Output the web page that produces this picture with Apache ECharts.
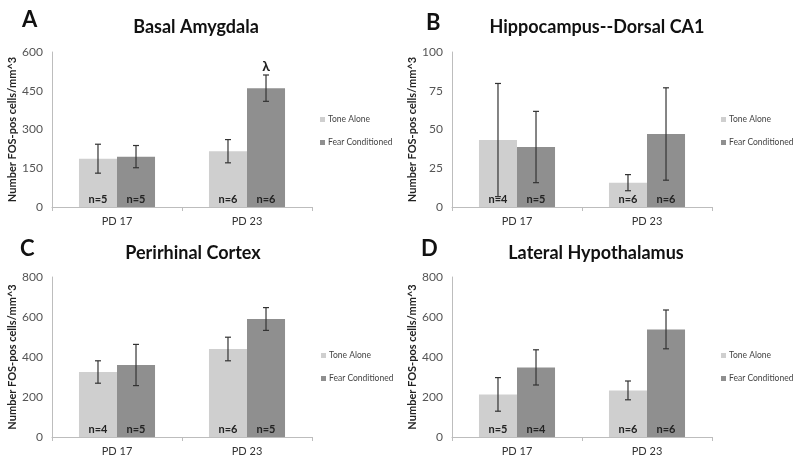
<!DOCTYPE html>
<html>
<head>
<meta charset="utf-8">
<script src="https://cdn.jsdelivr.net/npm/echarts@6/dist/echarts.min.js"></script>
<style>html,body{margin:0;padding:0;background:#fff}#c{width:800px;height:462px}</style>
</head>
<body>
<div id="c"></div>
<script>
// ---- data ----
const categories = ['PD 17', 'PD 23'];
const seriesNames = ['Tone Alone', 'Fear Conditioned'];
const panelLetters = ['A', 'B', 'C', 'D'];
const panelTitles = ['Basal Amygdala', 'Hippocampus--Dorsal CA1', 'Perirhinal Cortex', 'Lateral Hypothalamus'];
const yMax = [600, 100, 800, 800];
const yStep = [150, 25, 200, 200];

const toneA = [187, 216], toneErrA = [56, 45], fearA = [195, 460], fearErrA = [43, 51];
const nToneA = [5, 6], nFearA = [5, 6], sigFearA = ['', 'λ'];
const toneB = [43.2, 15.7], toneErrB = [36.5, 5.2], fearB = [38.7, 47.1], fearErrB = [23, 29.8];
const nToneB = [4, 6], nFearB = [5, 6], sigFearB = ['', ''];
const toneC = [325, 440], toneErrC = [56, 59], fearC = [360, 590], fearErrC = [103, 57];
const nToneC = [4, 6], nFearC = [5, 5], sigFearC = ['', ''];
const toneD = [213, 233], toneErrD = [84, 47], fearD = [348, 538], fearErrD = [88, 97];
const nToneD = [5, 6], nFearD = [4, 6], sigFearD = ['', ''];

const panels = [
  {tone: toneA, toneErr: toneErrA, fear: fearA, fearErr: fearErrA, nTone: nToneA, nFear: nFearA, sig: sigFearA},
  {tone: toneB, toneErr: toneErrB, fear: fearB, fearErr: fearErrB, nTone: nToneB, nFear: nFearB, sig: sigFearB},
  {tone: toneC, toneErr: toneErrC, fear: fearC, fearErr: fearErrC, nTone: nToneC, nFear: nFearC, sig: sigFearC},
  {tone: toneD, toneErr: toneErrD, fear: fearD, fearErr: fearErrD, nTone: nToneD, nFear: nFearD, sig: sigFearD}
];

// ---- layout / style ----
const FONT = 'Lato';
const toneColor = '#cfcfcf';
const fearColor = '#8f8f8f';
const CAT_GAP = 0.415;
const gridPos = [
  {left: 52, top: 52, width: 260, height: 155},
  {left: 452, top: 52, width: 260, height: 155},
  {left: 52, top: 277, width: 260, height: 160},
  {left: 452, top: 277, width: 260, height: 160}
];
const letterPos = [[17, 4], [421, 7], [15, 233], [416, 233]];
const titlePos = [[191, 13], [592, 13], [188, 239], [591, 239]];
const legendPos = [[320, 115], [721, 115], [321, 351], [721, 351]];

const chart = echarts.init(document.getElementById('c'), null, {renderer: 'canvas'});

const grids = [], xAxes = [], yAxes = [], series = [], titles = [], legends = [];

function errRender(panel, sideSign, sigArr) {
  return function (params, api) {
    const cat = api.value(0), mean = api.value(1), err = api.value(2);
    const c = api.coord([cat, mean]);
    const band = api.size([1, 0])[0];
    const bw = band * (1 - CAT_GAP) / 2;
    const x = c[0] + sideSign * bw / 2;
    const yTop = api.coord([cat, mean + err])[1];
    const yBot = api.coord([cat, mean - err])[1];
    const st = {stroke: '#333', lineWidth: 1.2};
    const cap = 3;
    const children = [
      {type: 'line', shape: {x1: x, y1: yTop, x2: x, y2: yBot}, style: st},
      {type: 'line', shape: {x1: x - cap, y1: yTop, x2: x + cap, y2: yTop}, style: st},
      {type: 'line', shape: {x1: x - cap, y1: yBot, x2: x + cap, y2: yBot}, style: st}
    ];
    const s = sigArr ? sigArr[params.dataIndex] : '';
    if (s) {
      children.push({type: 'text', style: {text: s, x: x, y: yTop - 9, align: 'center', verticalAlign: 'middle',
        fontFamily: FONT, fontWeight: 'bold', fontSize: 14, fill: '#222'}});
    }
    return {type: 'group', children: children};
  };
}

panels.forEach((p, i) => {
  grids.push(Object.assign({}, gridPos[i], {containLabel: false}));
  xAxes.push({
    type: 'category', gridIndex: i, data: categories,
    axisLine: {lineStyle: {color: '#bdbdbd', width: 1}},
    axisTick: {show: true, length: 4, lineStyle: {color: '#bdbdbd'}},
    axisLabel: {color: '#333', fontFamily: FONT, fontSize: 11, margin: 9}
  });
  yAxes.push({
    type: 'value', gridIndex: i, min: 0, max: yMax[i], interval: yStep[i],
    name: 'Number FOS-pos cells/mm^3', nameLocation: 'middle', nameRotate: 90, nameGap: 32,
    nameTextStyle: {fontFamily: FONT, fontWeight: 'bold', fontSize: 11, color: '#222'},
    axisLine: {show: true, lineStyle: {color: '#bdbdbd', width: 1}},
    axisTick: {show: false},
    splitLine: {show: false},
    axisLabel: {color: '#555', fontFamily: FONT, fontSize: 12, margin: 9}
  });
  const labelCommon = {show: true, position: 'insideBottom', distance: 2, fontFamily: FONT,
    fontWeight: 'bold', fontSize: 11, color: '#222'};
  series.push({
    name: seriesNames[0], type: 'bar', xAxisIndex: i, yAxisIndex: i, data: p.tone,
    barGap: '0%', barCategoryGap: (CAT_GAP * 100) + '%',
    itemStyle: {color: toneColor},
    label: Object.assign({}, labelCommon, {formatter: (d) => 'n=' + p.nTone[d.dataIndex]}),
    emphasis: {disabled: true}, animation: false
  });
  series.push({
    name: seriesNames[1], type: 'bar', xAxisIndex: i, yAxisIndex: i, data: p.fear,
    barGap: '0%', barCategoryGap: (CAT_GAP * 100) + '%',
    itemStyle: {color: fearColor},
    label: Object.assign({}, labelCommon, {formatter: (d) => 'n=' + p.nFear[d.dataIndex]}),
    emphasis: {disabled: true}, animation: false
  });
  series.push({
    type: 'custom', xAxisIndex: i, yAxisIndex: i, z: 10, animation: false,
    data: p.tone.map((v, k) => [k, v, p.toneErr[k]]),
    renderItem: errRender(p, -1, null)
  });
  series.push({
    type: 'custom', xAxisIndex: i, yAxisIndex: i, z: 10, animation: false,
    data: p.fear.map((v, k) => [k, v, p.fearErr[k]]),
    renderItem: errRender(p, 1, p.sig)
  });
  titles.push({
    text: panelLetters[i], left: letterPos[i][0], top: letterPos[i][1],
    textStyle: {fontFamily: FONT, fontWeight: 'bold', fontSize: 22, color: '#111'}
  });
  titles.push({
    text: panelTitles[i], left: titlePos[i][0], top: titlePos[i][1], textAlign: 'center',
    textStyle: {fontFamily: FONT, fontWeight: 'bold', fontSize: 18, color: '#111'}
  });
  legends.push({
    data: seriesNames, orient: 'vertical', left: legendPos[i][0], top: legendPos[i][1],
    padding: 0, icon: 'rect', itemWidth: 5, itemHeight: 5, itemGap: 14,
    textStyle: {fontFamily: FONT, fontSize: 8.5, color: '#444', padding: [0, 0, 0, -2]}
  });
});

chart.setOption({
  animation: false,
  backgroundColor: '#fff',
  title: titles,
  legend: legends,
  grid: grids,
  xAxis: xAxes,
  yAxis: yAxes,
  series: series
});
</script>
</body>
</html>
